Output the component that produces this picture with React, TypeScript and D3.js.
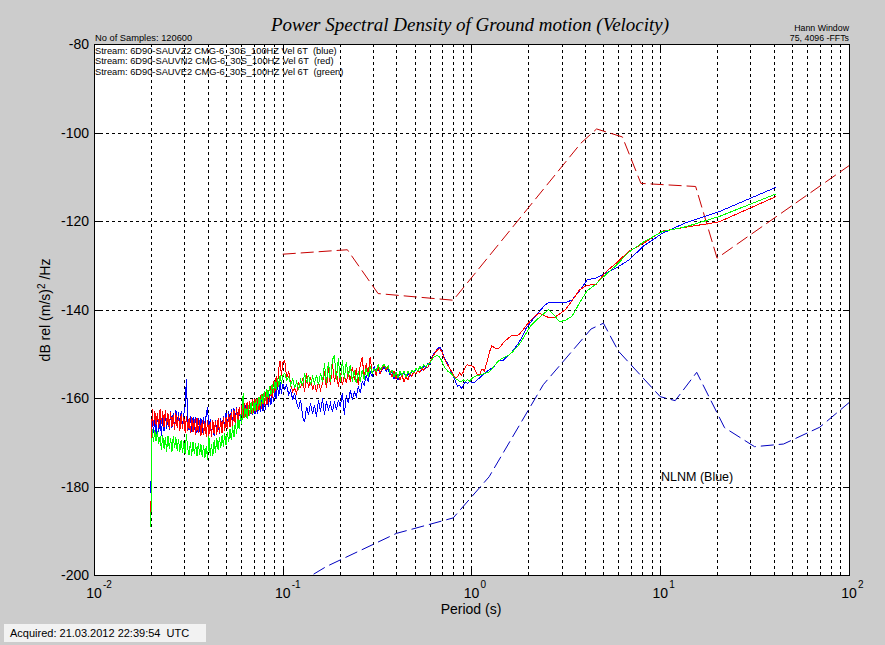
import React from "react";
import * as d3 from "d3";

const WIDTH = 885;
const HEIGHT = 645;
const PLOT = { left: 94, top: 44, right: 849, bottom: 575 };

const titleText = "Power Spectral Density of Ground motion (Velocity)";
const sampleText = "No of Samples: 120600";
const streamLabels = [
  "Stream: 6D90-SAUVZ2 CMG-6_30S_100HZ Vel 6T  (blue)",
  "Stream: 6D90-SAUVN2 CMG-6_30S_100HZ Vel 6T  (red)",
  "Stream: 6D90-SAUVE2 CMG-6_30S_100HZ Vel 6T  (green)",
];
const windowLabels = ["Hann Window", "75, 4096 -FFTs"];
const acquiredText = "Acquired: 21.03.2012 22:39:54  UTC";
const nlnmLabel = "NLNM (Blue)";
const xAxisTitle = "Period (s)";

const xDecades = [0.01, 0.1, 1, 10, 100];
const xExponents = ["-2", "-1", "0", "1", "2"];
const yTicks = [-80, -100, -120, -140, -160, -180, -200];

// sample grids (periods, s)
const bandAPeriods = d3.range(100).map((i) => 0.02 * Math.pow(5, i / 100));
const bandBPeriods = d3.range(95).map((j) => 0.1 * Math.pow(10, j / 95));
const fftPeriods = d3.range(40, 0, -1).map((k) => 40.96 / k);

// ---- blue (Z) ----
const blueA = [
  -181.5,
  -163.9, -168.0, -164.4, -168.3, -163.8, -167.6, -164.6, -168.5, -164.0, -167.4,
  -163.2, -167.0, -163.7, -167.3, -162.9, -166.8, -163.3, -167.0, -162.7, -166.2,
  -163.2, -166.9, -163.0, -166.5, -163.6, -162.0, -155.6, -165.6, -167.2, -164.0,
  -167.7, -164.4, -167.3, -164.2, -167.8, -164.6, -167.6, -164.5, -168.0, -164.3,
  -167.2, -163.6, -162.0, -167.4, -164.8, -168.3, -165.1, -168.6, -164.9, -168.0,
  -165.2, -168.1, -164.5, -167.7, -164.1, -167.0, -163.4, -166.5, -162.9, -165.9,
  -162.6, -165.7, -162.3, -165.4, -162.1, -165.1, -162.4, -165.3, -161.8, -160.6,
  -164.4, -161.5, -164.6, -161.8, -164.1, -161.3, -163.9, -160.9, -163.6, -160.7,
  -163.7, -161.0, -163.2, -160.3, -163.0, -159.9, -162.6, -159.5, -162.1, -159.1,
  -161.6, -158.5, -161.0, -157.8, -160.3, -157.1, -159.6, -156.5, -159.0,
];
const blueB = [
  -156.8, -158.0, -157.1, -159.3, -158.2, -160.4, -158.9, -161.2, -162.3, -160.4,
  -164.2, -165.5, -162.0, -163.8, -161.2, -163.5, -161.6, -164.2, -160.4, -163.1,
  -160.1, -163.8, -160.8, -162.7, -161.2, -163.1, -160.8, -162.7, -160.4, -162.0,
  -158.9, -163.8, -159.3, -161.2, -158.2, -160.4, -158.6, -159.7, -157.4, -158.9,
  -156.3, -157.1, -154.8, -156.3, -154.0, -155.2, -152.9, -154.4, -153.3, -154.6,
  -153.7, -152.9, -154.0, -153.3, -154.8, -154.0, -155.6, -154.8, -155.9, -154.4,
  -155.2, -154.0, -155.6, -154.4, -155.2, -153.7, -154.4, -153.3, -154.0, -152.9,
  -153.7, -152.7, -153.3, -152.2, -152.5, -151.0, -149.9, -149.4, -148.8, -148.5,
  -149.1, -150.7, -151.6, -152.2, -153.3, -154.4, -155.2, -156.3, -157.4, -157.1,
  -157.8, -157.1, -156.3, -156.7, -156.3,
];
const blueL = [
  -156.6, -156.3, -155.8, -155.4, -154.9, -154.4, -154.0, -153.6, -153.3, -152.8,
  -152.0, -151.4, -151.6, -150.9, -150.4, -149.6, -148.6, -147.5, -146.0, -144.2,
  -143.0, -141.8, -140.6, -139.3, -138.4, -138.5, -138.4, -138.5, -137.8, -135.9,
  -133.3, -132.9, -131.8, -130.6, -128.8, -125.6, -122.8, -120.4, -117.9, -112.4,
];

// ---- red (N) ----
const redA = [
  -187.0,
  -162.6, -166.4, -162.9, -166.0, -163.3, -166.7, -162.5, -165.9, -163.0, -166.5,
  -162.8, -166.2, -163.5, -167.0, -163.1, -166.6, -163.8, -167.2, -163.4, -166.8,
  -164.0, -167.5, -163.6, -167.1, -164.2, -167.8, -164.0, -167.4, -164.5, -168.0,
  -164.3, -167.7, -164.8, -168.3, -164.6, -168.0, -165.0, -168.6, -164.9, -168.4,
  -165.3, -168.8, -165.0, -168.5, -165.4, -168.7, -164.9, -168.2, -165.2, -168.4,
  -164.6, -167.9, -164.9, -168.0, -164.2, -167.5, -164.4, -167.1, -163.6, -166.6,
  -163.2, -166.3, -162.8, -165.9, -162.3, -165.4, -162.0, -165.0, -161.7, -164.6,
  -161.2, -164.2, -160.9, -164.0, -160.6, -163.6, -160.3, -163.4, -160.2, -163.2,
  -159.9, -162.8, -159.4, -162.4, -159.1, -161.8, -158.7, -161.5, -158.1, -160.8,
  -157.3, -160.0, -156.1, -158.8, -155.0, -157.5, -153.2, -151.6, -155.0,
];
const redB = [
  -152.0, -151.6, -155.5, -154.0, -157.0, -158.6, -157.8, -159.0, -156.3, -157.8,
  -155.6, -158.6, -154.4, -157.8, -155.2, -158.2, -156.7, -158.6, -156.3, -158.2,
  -156.7, -154.0, -157.8, -153.3, -157.1, -152.2, -156.3, -154.0, -157.4, -154.4,
  -157.1, -154.8, -156.7, -154.0, -156.3, -152.9, -155.9, -153.3, -157.1, -152.5,
  -150.7, -155.6, -152.2, -154.8, -150.7, -154.4, -153.3, -154.8, -152.9, -154.4,
  -153.3, -152.5, -153.7, -152.9, -154.0, -155.2, -154.0, -155.6, -154.6, -155.9,
  -154.8, -156.3, -155.2, -155.9, -154.4, -155.2, -153.9, -154.6, -153.7, -154.2,
  -153.3, -153.7, -152.9, -153.1, -151.9, -151.0, -150.3, -149.5, -149.1, -148.8,
  -149.5, -150.7, -151.8, -152.5, -153.3, -154.0, -154.8, -155.6, -155.2, -154.4,
  -154.8, -154.0, -152.9, -152.5, -152.7,
];
const redL = [
  -152.8, -153.9, -154.8, -154.6, -153.4, -153.9, -152.0, -149.8, -148.2, -148.6,
  -148.9, -148.6, -147.7, -147.0, -146.4, -145.8, -145.9, -145.7, -144.8, -143.6,
  -142.6, -141.6, -140.8, -141.3, -141.8, -141.9, -141.0, -140.0, -138.0, -135.6,
  -134.5, -134.4, -131.6, -129.5, -126.8, -125.0, -122.3, -121.4, -120.2, -114.5,
];

// ---- green (E) ----
const greenA = [
  -189.2,
  -167.0, -170.0, -167.3, -169.8, -167.5, -170.4, -168.7, -171.8, -168.4, -171.4,
  -168.8, -172.1, -168.5, -171.5, -169.0, -172.3, -168.6, -171.4, -168.9, -171.9,
  -169.2, -172.2, -169.4, -172.5, -169.8, -172.6, -168.2, -171.5, -172.9, -170.0,
  -173.0, -169.9, -172.7, -170.2, -173.2, -170.1, -172.8, -170.4, -173.4, -170.6,
  -173.6, -170.8, -173.9, -168.6, -173.1, -170.4, -173.2, -169.6, -172.4, -169.0,
  -171.8, -168.8, -171.4, -168.4, -171.0, -167.9, -170.7, -167.6, -170.0, -167.0,
  -169.5, -166.4, -168.9, -165.6, -168.1, -164.8, -167.0, -163.6, -165.9, -158.8,
  -164.6, -162.2, -164.8, -161.5, -164.1, -161.0, -163.5, -160.6, -163.0, -160.2,
  -162.6, -159.7, -161.8, -159.0, -161.3, -158.4, -160.7, -158.0, -160.1, -157.4,
  -159.4, -156.8, -158.8, -156.2, -158.1, -155.4, -157.5, -154.8, -156.8,
];
const greenB = [
  -155.0, -154.4, -155.9, -155.2, -157.1, -155.6, -157.8, -156.3, -158.2, -155.9,
  -157.1, -154.4, -156.7, -154.8, -157.1, -155.2, -156.7, -154.8, -157.1, -154.4,
  -156.3, -152.2, -156.7, -151.8, -156.3, -151.4, -150.3, -155.9, -151.0, -156.3,
  -151.4, -155.6, -151.8, -155.2, -152.5, -156.3, -153.7, -156.7, -154.0, -156.3,
  -153.7, -155.9, -153.3, -155.2, -152.9, -154.4, -153.3, -154.0, -152.5, -153.7,
  -152.9, -152.4, -153.3, -152.7, -154.4, -153.7, -155.2, -154.2, -155.4, -154.0,
  -154.9, -153.9, -155.2, -154.0, -154.6, -153.7, -154.2, -153.3, -153.9, -152.9,
  -153.3, -152.5, -152.9, -152.4, -152.2, -151.4, -150.8, -150.5, -150.4, -150.8,
  -151.6, -152.6, -153.4, -153.9, -154.2, -154.6, -155.2, -155.6, -155.9, -156.2,
  -156.3, -155.9, -156.2, -155.9, -156.2,
];
const greenL = [
  -155.3, -155.1, -154.9, -154.8, -154.6, -154.5, -154.3, -154.1, -153.5, -152.7,
  -152.0, -151.4, -151.0, -150.7, -150.3, -149.7, -148.9, -148.0, -146.8, -145.3,
  -143.8, -142.8, -141.9, -141.0, -140.0, -141.2, -142.8, -142.4, -141.5, -138.6,
  -135.8, -134.3, -132.2, -130.0, -127.0, -124.7, -122.4, -121.3, -119.0, -113.9,
];

// ---- Peterson noise models (velocity) ----
const nhnmPeriods = [0.1, 0.22, 0.32, 0.8, 3.8, 4.6, 6.3, 7.9, 15.4, 20, 100];
const nhnmDb = [-127.5, -126.5, -136.4, -137.9, -102.4, -99.2, -101.0, -111.5, -112.2, -128.4, -107.5];
const nlnmPeriods = [0.1, 0.17, 0.4, 0.8, 1.24, 2.4, 4.3, 5.0, 6.0, 10, 12, 15.6, 21.9, 31.6, 45, 70, 101];
const nlnmDb = [-204.0, -198.1, -190.6, -187.1, -177.8, -157.0, -144.4, -143.1, -149.4, -159.7, -160.6, -154.2, -166.7, -171.0, -170.4, -166.6, -160.9];

const SANS = "'Liberation Sans', Arial, sans-serif";
const SERIF = "'Liberation Serif', 'Times New Roman', serif";

function buildSeries(a: number[], b: number[], l: number[]): [number, number][] {
  return [
    ...bandAPeriods.map((p, i) => [p, a[i]] as [number, number]),
    ...bandBPeriods.map((p, i) => [p, b[i]] as [number, number]),
    ...fftPeriods.map((p, i) => [p, l[i]] as [number, number]),
  ];
}

export default function App() {
  const x = d3.scaleLog().domain([0.01, 100]).range([PLOT.left, PLOT.right]);
  const y = d3.scaleLinear().domain([-200, -80]).range([PLOT.bottom, PLOT.top]);
  const line = d3
    .line<[number, number]>()
    .x((d) => x(d[0]))
    .y((d) => y(d[1]));
  const snap = (v: number) => Math.round(v) + 0.5;

  const series = [
    { color: "#0000ff", pts: buildSeries(blueA, blueB, blueL) },
    { color: "#ff0000", pts: buildSeries(redA, redB, redL) },
    { color: "#00ff00", pts: buildSeries(greenA, greenB, greenL) },
  ];
  const nhnm = nhnmPeriods.map((p, i) => [p, nhnmDb[i]] as [number, number]);
  const nlnm = nlnmPeriods.map((p, i) => [p, nlnmDb[i]] as [number, number]);

  const xGrid = x.ticks().filter((v) => v > 0.0100001 && v < 99.999);
  const yGrid = yTicks.filter((v) => v > -200 && v < -80);

  return (
    <svg
      width={WIDTH}
      height={HEIGHT}
      style={{ position: "absolute", left: 0, top: 0, display: "block" }}
    >
      <defs>
        <clipPath id="plotClip">
          <rect x={PLOT.left} y={PLOT.top} width={PLOT.right - PLOT.left} height={PLOT.bottom - PLOT.top} />
        </clipPath>
      </defs>
      <rect x={0} y={0} width={WIDTH} height={HEIGHT} fill="#cccccc" />
      <rect x={PLOT.left} y={PLOT.top} width={PLOT.right - PLOT.left} height={PLOT.bottom - PLOT.top} fill="#ffffff" />

      {/* title & header texts */}
      <text x={470} y={31} textAnchor="middle" fontFamily={SERIF} fontStyle="italic" fontSize={19} fill="#000">
        {titleText}
      </text>
      <text x={95} y={41} fontFamily={SANS} fontSize={9.3} fill="#000">
        {sampleText}
      </text>
      {windowLabels.map((t, i) => (
        <text key={t} x={849} y={31 + i * 9.5} textAnchor="end" fontFamily={SANS} fontSize={8.8} fill="#000">
          {t}
        </text>
      ))}
      {streamLabels.map((t, i) => (
        <text key={t} x={95} y={53.5 + i * 10.5} fontFamily={SANS} fontSize={9.3} fill="#000" style={{ whiteSpace: "pre" }}>
          {t}
        </text>
      ))}

      {/* grid */}
      <g stroke="#000" strokeWidth={1} strokeDasharray="3,3" shapeRendering="crispEdges">
        {xGrid.map((v) => (
          <line key={"gx" + v} x1={snap(x(v))} x2={snap(x(v))} y1={PLOT.top} y2={PLOT.bottom} />
        ))}
        {yGrid.map((v) => (
          <line key={"gy" + v} x1={PLOT.left} x2={PLOT.right} y1={snap(y(v))} y2={snap(y(v))} />
        ))}
      </g>

      <g clipPath="url(#plotClip)" fill="none" strokeWidth={1}>
        <path d={line(nhnm) || ""} stroke="#c80000" strokeDasharray="13,5" />
        <path d={line(nlnm) || ""} stroke="#0000c0" strokeDasharray="13,5" />
        {series.map((s) => (
          <path key={s.color} d={line(s.pts) || ""} stroke={s.color} shapeRendering="crispEdges" />
        ))}
      </g>

      <text x={661} y={481} fontFamily={SANS} fontSize={12.5} fill="#000">
        {nlnmLabel}
      </text>

      {/* frame & ticks */}
      <rect
        x={PLOT.left + 0.5}
        y={PLOT.top + 0.5}
        width={PLOT.right - PLOT.left}
        height={PLOT.bottom - PLOT.top}
        fill="none"
        stroke="#000"
        shapeRendering="crispEdges"
      />
      <g stroke="#000" shapeRendering="crispEdges">
        {xDecades.slice(1, -1).map((v) => (
          <g key={"tx" + v}>
            <line x1={snap(x(v))} x2={snap(x(v))} y1={PLOT.bottom} y2={PLOT.bottom - 6} />
            <line x1={snap(x(v))} x2={snap(x(v))} y1={PLOT.top} y2={PLOT.top + 6} />
          </g>
        ))}
        {yGrid.map((v) => (
          <g key={"ty" + v}>
            <line x1={PLOT.left} x2={PLOT.left + 6} y1={snap(y(v))} y2={snap(y(v))} />
            <line x1={PLOT.right} x2={PLOT.right - 6} y1={snap(y(v))} y2={snap(y(v))} />
          </g>
        ))}
      </g>

      {/* y tick labels */}
      {yTicks.map((v) => (
        <text key={"yl" + v} x={89} y={y(v) + 5} textAnchor="end" fontFamily={SANS} fontSize={14} fill="#000">
          {v}
        </text>
      ))}
      {/* x tick labels */}
      {xDecades.map((v, i) => (
        <g key={"xl" + v}>
          <text x={x(v)} y={598} textAnchor="middle" fontFamily={SANS} fontSize={14} fill="#000">
            10
          </text>
          <text x={x(v) + 9} y={588} fontFamily={SANS} fontSize={10} fill="#000">
            {xExponents[i]}
          </text>
        </g>
      ))}
      <text x={471} y={614} textAnchor="middle" fontFamily={SANS} fontSize={14} fill="#000">
        {xAxisTitle}
      </text>
      <text transform="translate(50,310) rotate(-90)" textAnchor="middle" fontFamily={SANS} fontSize={14} fill="#000">
        dB rel (m/s)
        <tspan fontSize={10} dy={-5}>2</tspan>
        <tspan dy={5}> /Hz</tspan>
      </text>

      {/* acquired box */}
      <rect x={4} y={624} width={202} height={18} fill="#f2f2f2" />
      <text x={10} y={637} fontFamily={SANS} fontSize={11} fill="#000" style={{ whiteSpace: "pre" }}>
        {acquiredText}
      </text>
    </svg>
  );
}
